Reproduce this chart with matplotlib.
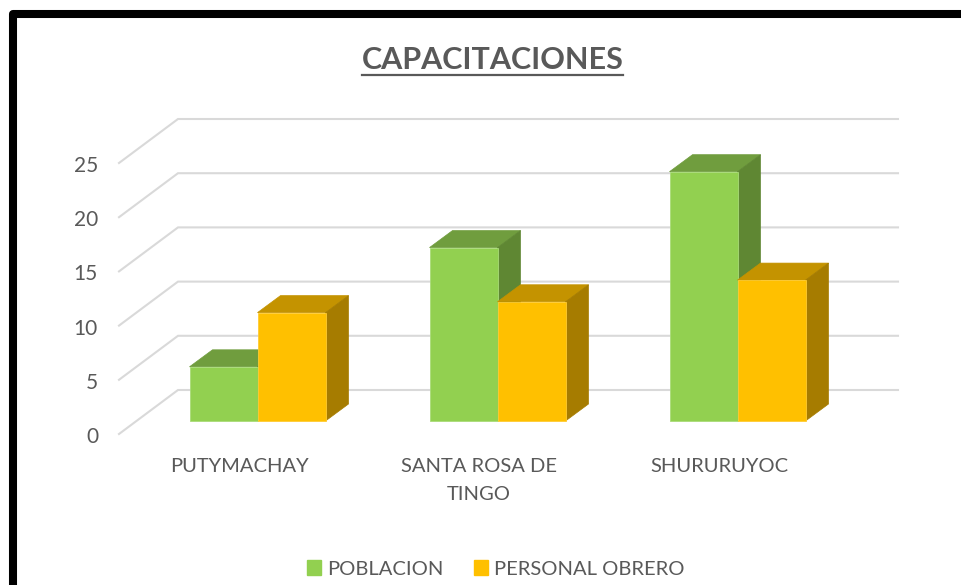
import matplotlib
matplotlib.use('Agg')
import matplotlib.pyplot as plt
from matplotlib.lines import Line2D
from matplotlib.patches import Patch, Polygon

plt.rcParams['font.family'] = ['Lato', 'DejaVu Sans']

categories = ['PUTYMACHAY', 'SANTA ROSA DE\nTINGO', 'SHURURUYOC']
poblacion = [5, 16, 23]
personal_obrero = [10, 11, 13]
y_ticks = [0, 5, 10, 15, 20, 25]

W, H = 962, 585
PX_X = 240.0   # pixels per category
PX_Y = 10.84   # pixels per value unit
X0, Y0 = 257.5, 421   # pixel of first category centre on the bar base
BAR_W = 68 / PX_X
DEPTH_X, DEPTH_Y = 23 / PX_X, 17 / PX_Y
WALL_X, WALL_Y = 59 / PX_X, 44 / PX_Y
GRID_LEFT = (119 - X0) / PX_X
GRID_RIGHT = (898 - X0) / PX_X
FRONT_Y = (Y0 - 434) / PX_Y
TEXT = '#595959'


def draw_bar(ax, left, value, front, top, side, edge):
    right = left + BAR_W
    ax.add_patch(Polygon([(left, value), (left + DEPTH_X, value + DEPTH_Y),
                          (right + DEPTH_X, value + DEPTH_Y), (right, value)],
                         facecolor=top, edgecolor=top, lw=0.5, zorder=3))
    ax.add_patch(Polygon([(right, 0), (right + DEPTH_X, DEPTH_Y),
                          (right + DEPTH_X, value + DEPTH_Y), (right, value)],
                         facecolor=side, edgecolor=side, lw=0.5, zorder=3))
    ax.bar(left, value, BAR_W, align='edge', color=front, edgecolor=edge, linewidth=0.6, zorder=3)


def main():
    fig = plt.figure(figsize=(W / 100, H / 100), dpi=100)
    ax = fig.add_axes([0, 0, 1, 1])
    ax.set_xlim(-X0 / PX_X, (W - X0) / PX_X)
    ax.set_ylim((Y0 - H) / PX_Y, Y0 / PX_Y)
    ax.axis('off')

    # floor/wall gridlines
    for v in y_ticks:
        ax.plot([GRID_LEFT, GRID_LEFT + WALL_X, GRID_RIGHT],
                [FRONT_Y + v, FRONT_Y + v + WALL_Y, FRONT_Y + v + WALL_Y],
                color='#D9D9D9', lw=1.5, zorder=1, solid_joinstyle='miter')
        ax.annotate(str(v), (GRID_LEFT, FRONT_Y + v), xytext=(-21, -3), textcoords='offset pixels',
                    ha='right', va='center', fontsize=15, color=TEXT)

    for i, cat in enumerate(categories):
        draw_bar(ax, i - BAR_W, poblacion[i], '#92D050', '#709D3E', '#5F8733', '#A9DC78')
        draw_bar(ax, i, personal_obrero[i], '#FFC000', '#C49300', '#A67C00', '#FFCB33')
        ax.annotate(cat, (i, 0), xytext=(-18.5, -37), textcoords='offset pixels', ha='center', va='top',
                    fontsize=14.5, color=TEXT, linespacing=1.8)

    title = fig.text(492.5 / W, 1 - 60 / H, 'CAPACITACIONES', ha='center', va='center',
                     fontsize=22, fontweight='bold', color=TEXT)
    fig.canvas.draw()
    box = title.get_window_extent()
    fig.add_artist(Line2D([box.x0, box.x1], [H - 75, H - 75], transform=None, color=TEXT, lw=1.6))

    # black frame, runs off the right and bottom of the picture
    fig.add_artist(Line2D([12.5, 12.5, W + 5], [-5, H - 13.5, H - 13.5], transform=None,
                          color='black', lw=5.8, solid_joinstyle='round'))

    handles = [Patch(color='#92D050'), Patch(color='#FFC000')]
    fig.legend(handles, ['POBLACION', 'PERSONAL OBRERO'], loc='center', bbox_to_anchor=(496 / W, 1 - 569 / H),
               ncol=2, frameon=False, fontsize=14.5, labelcolor=TEXT, handlelength=0.7, handleheight=0.7,
               handletextpad=0.3, columnspacing=1.5)

    fig.savefig('out.png', dpi=100)


if __name__ == "__main__":
    main()
